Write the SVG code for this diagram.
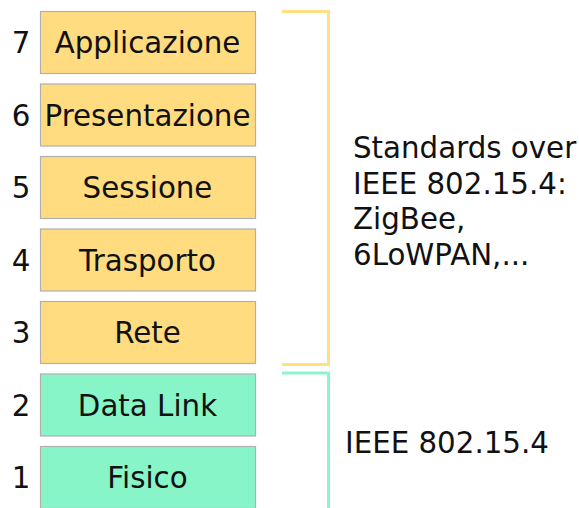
<svg xmlns="http://www.w3.org/2000/svg" width="579" height="508" viewBox="0 0 579 508">
<style>
text{font-family:"DejaVu Sans","Liberation Sans",sans-serif;font-size:29.3px;fill:#111}
.y{fill:#ffdc80;stroke:#b0b0b0;stroke-width:1.2}
.g{fill:#88f5c9;stroke:#b0b0b0;stroke-width:1.2}
.c{text-anchor:middle}
.by{fill:none;stroke:#ffdf80;stroke-width:3}
.bg{fill:none;stroke:#8cf5cb;stroke-width:3}
</style>
<rect width="579" height="508" fill="#fff"/>
<g id="layer7"><rect class="y" x="40.5" y="11.5" width="215" height="62"/><text class="c" x="147.5" y="53">Applicazione</text><text class="c" x="21" y="53">7</text></g>
<g id="layer6"><rect class="y" x="40.5" y="84" width="215" height="62"/><text class="c" x="147.5" y="125.5">Presentazione</text><text class="c" x="21" y="125.5">6</text></g>
<g id="layer5"><rect class="y" x="40.5" y="156.5" width="215" height="62"/><text class="c" x="147.5" y="198">Sessione</text><text class="c" x="21" y="198">5</text></g>
<g id="layer4"><rect class="y" x="40.5" y="229" width="215" height="62"/><text class="c" x="147.5" y="270.5">Trasporto</text><text class="c" x="21" y="270.5">4</text></g>
<g id="layer3"><rect class="y" x="40.5" y="301.5" width="215" height="62"/><text class="c" x="147.5" y="343">Rete</text><text class="c" x="21" y="343">3</text></g>
<g id="layer2"><rect class="g" x="40.5" y="374" width="215" height="62"/><text class="c" x="147.5" y="415.5">Data Link</text><text class="c" x="21" y="415.5">2</text></g>
<g id="layer1"><rect class="g" x="40.5" y="446.5" width="215" height="62"/><text class="c" x="147.5" y="488">Fisico</text><text class="c" x="21" y="488">1</text></g>
<g id="connectors">
<path class="by" d="M282 11.5H328.5V364.5H282"/>
<path class="bg" d="M282 373H328.5V510"/>
</g>
<g id="labels">
<text x="353" y="158">Standards over</text>
<text x="353" y="193.5">IEEE 802.15.4:</text>
<text x="353" y="229">ZigBee,</text>
<text x="353" y="264.5">6LoWPAN,...</text>
<text x="345" y="453">IEEE 802.15.4</text>
</g>
</svg>
